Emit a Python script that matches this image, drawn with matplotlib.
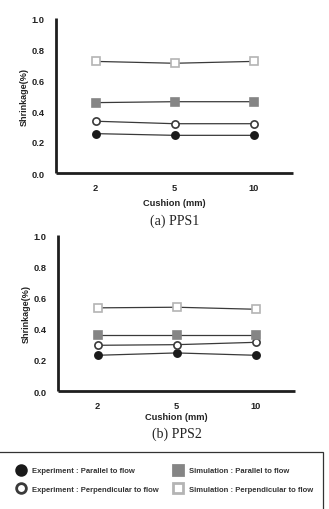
import numpy as np
import matplotlib
matplotlib.use("Agg")
import matplotlib.pyplot as plt
from matplotlib.lines import Line2D
from matplotlib.patches import Rectangle

cushion = ['2', '5', '10']

# (a) PPS1
pps1_exp_par = [0.254, 0.243, 0.243]
pps1_exp_perp = [0.334, 0.318, 0.318]
pps1_sim_par = [0.454, 0.460, 0.460]
pps1_sim_perp = [0.720, 0.708, 0.720]

# (b) PPS2
pps2_exp_par = [0.229, 0.244, 0.229]
pps2_exp_perp = [0.293, 0.297, 0.312]
pps2_sim_par = [0.362, 0.362, 0.362]
pps2_sim_perp = [0.533, 0.537, 0.524]

labels = ['Experiment : Parallel to flow', 'Experiment : Perpendicular to flow',
          'Simulation : Parallel to flow', 'Simulation : Perpendicular to flow']

plt.rcParams['font.family'] = ['Liberation Sans', 'DejaVu Sans']

# marker styles for the four series
styles = [
    dict(marker='o', mfc='#1a1a1a', mec='#1a1a1a'),
    dict(marker='o', mfc='white', mec='#3a3a3a'),
    dict(marker='s', mfc='#858585', mec='#858585'),
    dict(marker='s', mfc='white', mec='#b4b4b4'),
]

W, H = 329, 510
fig = plt.figure(figsize=(W / 100, H / 100), dpi=100)


def draw_panel(rect, series, caption, cap_y, xpad):
    ax = fig.add_axes(rect)
    xs = np.arange(len(cushion))
    for vals, st in zip(series, styles):
        ax.plot(xs, vals, color='#3a3a3a', lw=0.9, ms=5.2, mew=1.2, **st)
    ax.set_xlim(-0.5, 2.5)
    ax.set_ylim(0, 1.0)
    ax.set_xticks(xs)
    ax.set_xticklabels(cushion)
    ax.set_yticks([0, 0.2, 0.4, 0.6, 0.8, 1.0])
    ax.set_yticklabels(['0.0', '0.2', '0.4', '0.6', '0.8', '1.0'])
    for s in ['top', 'right']:
        ax.spines[s].set_visible(False)
    for s in ['left', 'bottom']:
        ax.spines[s].set_linewidth(2.0)
        ax.spines[s].set_color('#1e1e1e')
        ax.spines[s].set_capstyle('butt')
    ax.tick_params(length=0, labelsize=6.7, colors='#222222')
    ax.tick_params(axis='y', pad=8)
    ax.tick_params(axis='x', pad=7)
    for t in ax.get_xticklabels() + ax.get_yticklabels():
        t.set_fontweight('bold')
    ax.set_ylabel('Shrinkage(%)', fontsize=6.5, fontweight='bold', color='#222222', labelpad=2.5)
    ax.set_xlabel('Cushion (mm)', fontsize=6.7, fontweight='bold', color='#222222', labelpad=xpad)
    fig.text((rect[0] + rect[2] / 2), cap_y, caption, ha='center', va='center',
             fontsize=10, family='Liberation Serif', color='#222222')
    return ax


draw_panel([56 / W, 1 - 174 / H, 237 / W, 155 / H],
           [pps1_exp_par, pps1_exp_perp, pps1_sim_par, pps1_sim_perp],
           '(a) PPS1', 1 - 221 / H, 4.5)
draw_panel([58 / W, 1 - 392 / H, 237 / W, 156 / H],
           [pps2_exp_par, pps2_exp_perp, pps2_sim_par, pps2_sim_perp],
           '(b) PPS2', 1 - 434 / H, 2.0)

# legend box
fig.patches.append(Rectangle((-0.01, -0.05), 323 / W + 0.01, (510 - 452.5) / H + 0.05,
                             transform=fig.transFigure, fill=False,
                             edgecolor='#333333', lw=0.9))

handles = [Line2D([], [], linestyle='none', ms=7.0, mew=2.0, **st) for st in styles]
leg = fig.legend(handles, labels, ncol=2, frameon=False, loc='upper left',
                 bbox_to_anchor=(17 / W, 1 - 468 / H),
                 prop=dict(size=5.5, weight='bold'),
                 handlelength=1.0, handletextpad=0.9, columnspacing=2.1,
                 labelspacing=1.45, borderaxespad=0, borderpad=0)
for t in leg.get_texts():
    t.set_color('#333333')

fig.savefig('out.png', dpi=100)
